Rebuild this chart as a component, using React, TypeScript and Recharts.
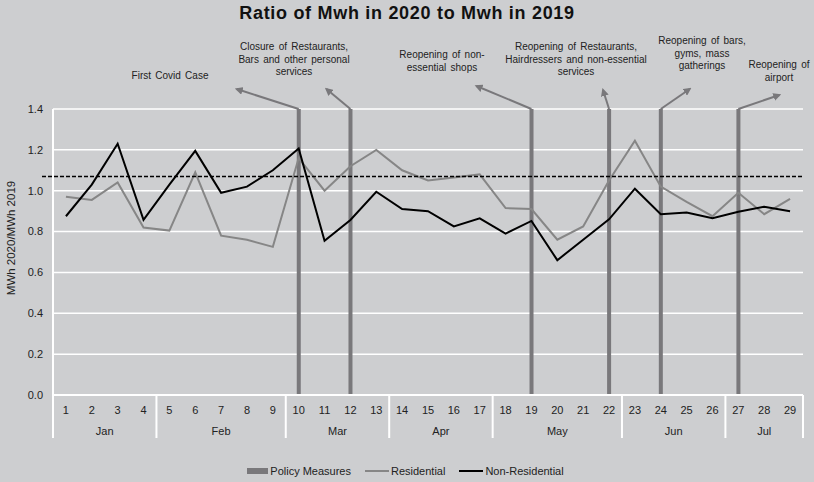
import React from 'react';
import {
  ComposedChart,
  Bar,
  Line,
  XAxis,
  YAxis,
  CartesianGrid,
  ReferenceLine,
  Legend,
  Customized,
} from 'recharts';

// x categories (week number) and their month groups
const days = [1, 2, 3, 4, 5, 6, 7, 8, 9, 10, 11, 12, 13, 14, 15, 16, 17, 18, 19, 20, 21, 22, 23, 24, 25, 26, 27, 28, 29];
const monthGroups = [
  { label: 'Jan', from: 1, to: 4 },
  { label: 'Feb', from: 5, to: 9 },
  { label: 'Mar', from: 10, to: 13 },
  { label: 'Apr', from: 14, to: 17 },
  { label: 'May', from: 18, to: 22 },
  { label: 'Jun', from: 23, to: 26 },
  { label: 'Jul', from: 27, to: 29 },
];

const residential = [
  0.97, 0.955, 1.04, 0.82, 0.805, 1.09, 0.78, 0.76, 0.725, 1.16,
  1.0, 1.12, 1.2, 1.1, 1.05, 1.065, 1.08, 0.915, 0.91, 0.76,
  0.825, 1.05, 1.245, 1.02, 0.945, 0.875, 0.99, 0.885, 0.96,
];
const nonResidential = [
  0.875, 1.03, 1.23, 0.857, 1.03, 1.195, 0.99, 1.02, 1.1, 1.207,
  0.755, 0.857, 0.995, 0.91, 0.9, 0.825, 0.865, 0.79, 0.852, 0.66,
  0.76, 0.86, 1.01, 0.885, 0.893, 0.865, 0.897, 0.922, 0.9,
];

const policyDays = [10, 12, 19, 22, 24, 27];
const yTicks = [0, 0.2, 0.4, 0.6, 0.8, 1.0, 1.2, 1.4];
const Y_MAX = 1.4;
const refRatio = 1.07;

const annotations = [
  { day: 10, lines: ['First Covid Case'] },
  { day: 12, lines: ['Closure of Restaurants,', 'Bars and other personal', 'services'] },
  { day: 19, lines: ['Reopening of non-', 'essential shops'] },
  { day: 22, lines: ['Reopening of Restaurants,', 'Hairdressers and non-essential', 'services'] },
  { day: 24, lines: ['Reopening of bars,', 'gyms, mass', 'gatherings'] },
  { day: 27, lines: ['Reopening of', 'airport'] },
];
// arrow tip offset from bar top, text center x and first line y
const annotationLayout = [
  { dx: -62, dy: -20, tx: 170, ty: 79 },
  { dx: -24, dy: -20, tx: 294, ty: 50 },
  { dx: -55, dy: -23, tx: 442, ty: 58 },
  { dx: -6, dy: -19, tx: 576, ty: 50 },
  { dx: 29, dy: -20, tx: 702, ty: 44 },
  { dx: 41, dy: -14, tx: 779, ty: 68 },
];

const rows = days.map((d, i) => ({
  day: d,
  residential: residential[i],
  nonResidential: nonResidential[i],
  policy: policyDays.includes(d) ? Y_MAX : null,
}));

const W = 814;
const H = 482;
const M = { top: 109, right: 11, bottom: 0, left: 0 };
const Y_AXIS_W = 53;
const PLOT_L = M.left + Y_AXIS_W;
const PLOT_W = W - PLOT_L - M.right;
const PLOT_H = 395 - M.top;
const BW = PLOT_W / days.length;

const BG = '#cdced0';
const BAR = '#79787b';
const GREY = '#868686';
const FONT = '"Liberation Sans", Arial, sans-serif';

const xOf = (d: number) => PLOT_L + (days.indexOf(d) + 0.5) * BW;
const yOf = (v: number) => M.top + ((Y_MAX - v) / Y_MAX) * PLOT_H;

const DayTick = (props: any) => {
  const { x, y, payload } = props;
  const d = payload.value as number;
  const group = monthGroups.find((g) => g.from === d);
  const last = monthGroups[monthGroups.length - 1];
  return (
    <g>
      <text x={x} y={y + 19} textAnchor="middle" fontSize={11} fill="#222" fontFamily={FONT}>
        {d}
      </text>
      {group && (
        <>
          <line x1={x - BW / 2} x2={x - BW / 2} y1={y} y2={y + 43} stroke="#fff" strokeWidth={2} />
          <text
            x={x + ((group.to - group.from) / 2) * BW}
            y={y + 40}
            textAnchor="middle"
            fontSize={11}
            fill="#222"
            fontFamily={FONT}
          >
            {group.label}
          </text>
        </>
      )}
      {d === last.to && (
        <line x1={x + BW / 2} x2={x + BW / 2} y1={y} y2={y + 43} stroke="#fff" strokeWidth={2} />
      )}
    </g>
  );
};

const Annotations = () => (
  <g fontFamily={FONT}>
    <text x={W / 2} y={19} textAnchor="middle" fontSize={18} fontWeight="bold" letterSpacing={0.7} fill="#111">
      Ratio of Mwh in 2020 to Mwh in 2019
    </text>
    <defs>
      <marker id="arrow" markerWidth="8" markerHeight="8" refX="6" refY="4" orient="auto" markerUnits="userSpaceOnUse">
        <path d="M0,0 L8,4 L0,8 Z" fill={BAR} />
      </marker>
    </defs>
    {annotations.map((a, i) => {
      const l = annotationLayout[i];
      const x0 = xOf(a.day);
      const y0 = yOf(Y_MAX);
      return (
        <g key={a.day}>
          <line x1={x0} y1={y0} x2={x0 + l.dx} y2={y0 + l.dy} stroke={BAR} strokeWidth={2} markerEnd="url(#arrow)" />
          {a.lines.map((t, j) => (
            <text key={j} x={l.tx} y={l.ty + j * 12.5} textAnchor="middle" fontSize={10} fill="#222" wordSpacing={1.5}>
              {t}
            </text>
          ))}
        </g>
      );
    })}
    <text
      x={12}
      y={238}
      transform="rotate(-90 12 238)"
      textAnchor="middle"
      dominantBaseline="middle"
      fontSize={11.5}
      fill="#222"
    >
      MWh 2020/MWh 2019
    </text>
  </g>
);

const legendItems = [
  { label: 'Policy Measures', kind: 'bar', color: BAR },
  { label: 'Residential', kind: 'line', color: GREY },
  { label: 'Non-Residential', kind: 'line', color: '#000' },
];

const LegendContent = () => (
  <div
    style={{
      height: 23,
      display: 'flex',
      justifyContent: 'center',
      alignItems: 'center',
      gap: 14,
      fontFamily: FONT,
      fontSize: 11,
      color: '#222',
      paddingLeft: 8,
    }}
  >
    {legendItems.map((it) => (
      <div key={it.label} style={{ display: 'flex', alignItems: 'center' }}>
        <span
          style={{
            display: 'inline-block',
            width: it.kind === 'bar' ? 21 : 24,
            height: it.kind === 'bar' ? 6 : 2,
            background: it.color,
            marginRight: 2,
          }}
        />
        {it.label}
      </div>
    ))}
  </div>
);

export default function App() {
  return (
    <div style={{ position: 'absolute', left: 0, top: 0, width: W, height: H, background: BG }}>
      <ComposedChart width={W} height={H} data={rows} margin={M}>
        <CartesianGrid vertical={false} stroke="#fff" strokeWidth={1.5} />
        <XAxis
          dataKey="day"
          interval={0}
          height={64}
          tickSize={0}
          tickMargin={0}
          tickLine={false}
          axisLine={{ stroke: '#fff', strokeWidth: 2 }}
          tick={<DayTick />}
        />
        <YAxis
          domain={[0, Y_MAX]}
          ticks={yTicks}
          width={Y_AXIS_W}
          tickLine={false}
          tickSize={0}
          tickMargin={10}
          axisLine={{ stroke: '#fff', strokeWidth: 2 }}
          tickFormatter={(v: number) => v.toFixed(1)}
          tick={{ fontSize: 11, fill: '#222', fontFamily: FONT }}
        />
        <YAxis
          yAxisId="right"
          orientation="right"
          domain={[0, Y_MAX]}
          width={0}
          tick={false}
          tickLine={false}
          axisLine={{ stroke: '#fff', strokeWidth: 2 }}
        />
        <Bar dataKey="policy" name="Policy Measures" barSize={4} fill={BAR} isAnimationActive={false} />
        <Line
          type="linear"
          dataKey="residential"
          name="Residential"
          stroke={GREY}
          strokeWidth={2}
          dot={false}
          isAnimationActive={false}
        />
        <Line
          type="linear"
          dataKey="nonResidential"
          name="Non-Residential"
          stroke="#000"
          strokeWidth={2}
          dot={false}
          isAnimationActive={false}
        />
        <ReferenceLine
          y={refRatio}
          ifOverflow="visible"
          shape={(p: any) => (
            <line
              x1={p.x1 - 11}
              y1={p.y1}
              x2={p.x2 + 1}
              y2={p.y2}
              stroke="#000"
              strokeWidth={1.5}
              strokeDasharray="4 2"
            />
          )}
        />
        <Legend verticalAlign="bottom" content={<LegendContent />} />
        <Customized component={Annotations} />
      </ComposedChart>
    </div>
  );
}
